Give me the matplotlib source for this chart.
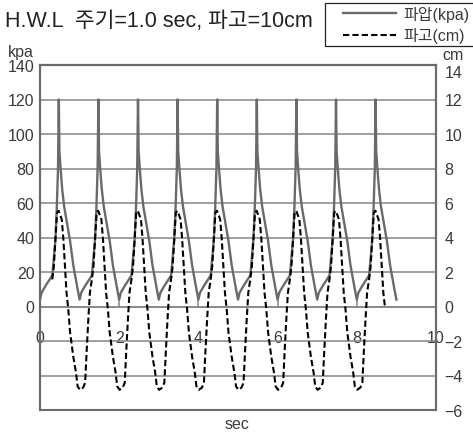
import matplotlib
matplotlib.use("Agg")
import matplotlib.pyplot as plt
from matplotlib.patches import Rectangle

plt.rcParams['font.family'] = ['Liberation Sans', 'Noto Sans CJK KR', 'DejaVu Sans']

# one wave cycle (phase within a 1.0 sec period)
press_phase = [0.00, 0.04, 0.14, 0.245, 0.31, 0.33, 0.39, 0.425, 0.455, 0.475,
               0.49, 0.52, 0.56, 0.61, 0.67, 0.76, 0.84, 0.91, 0.95]
press_kpa = [4, 8, 12, 15.7, 18, 23, 39, 58, 80, 120,
             90, 80, 68, 58, 50, 38, 24, 15, 10]

wave_phase = [0.01, 0.09, 0.14, 0.18, 0.22, 0.26, 0.31, 0.35, 0.39, 0.43,
              0.47, 0.55, 0.59, 0.63, 0.67, 0.715, 0.76, 0.84, 0.91, 0.95]
wave_cm = [-4.83, -4.7, -4.42, -2.5, -0.76, 0.8, 1.57, 2.35, 3.9, 5.45,
           5.55, 5.05, 3.9, 2.35, 0.8, -0.17, -1.5, -2.9, -3.85, -4.63]

cycle_start = [0, 1, 2, 3, 4, 5, 6, 7, 8]
press_end = (9.0, 4)        # last point of the pressure record
wave_first = 0.31           # dashed record begins on the first rise
wave_last = 8.71            # dashed record ends on the last fall

left_ticks = [-40, -20, 0, 20, 40, 60, 80, 100, 120, 140]
right_ticks = [-6, -4, -2, 0, 2, 4, 6, 8, 10, 12, 14]
x_ticks = [0, 2, 4, 6, 8, 10]

t_p, v_p = [], []
for c in cycle_start:
    for ph, v in zip(press_phase, press_kpa):
        t_p.append(c + ph)
        v_p.append(v)
t_p.append(press_end[0])
v_p.append(press_end[1])

t_w, v_w = [], []
for c in cycle_start:
    for ph, v in zip(wave_phase, wave_cm):
        t = c + ph
        if wave_first <= t <= wave_last:
            t_w.append(t)
            v_w.append(v)
t_w.append(wave_last)
v_w.append(0.0)

frame = '#6b6b6b'
gridc = '#858585'
txt = '#3a3a3a'

fig = plt.figure(figsize=(4.73, 4.39), dpi=100)
ax = fig.add_axes([40 / 473, 1 - 411 / 439, 396 / 473, 345 / 439])
ax2 = ax.twinx()

ax.set_xlim(0, 10)
ax.set_ylim(-60, 140)
ax2.set_ylim(-6, 14)

ax.set_yticks(left_ticks)
ax.set_yticklabels([str(t) if t >= 0 else '' for t in left_ticks])
ax.grid(axis='y', color=gridc, lw=1.1)
ax.tick_params(axis='y', length=0, pad=4, labelsize=11.5, labelcolor=txt)

ax2.set_yticks(right_ticks)
ax2.tick_params(axis='y', length=0, pad=6, labelsize=11.5, labelcolor=txt)
# the top right label sits just under the frame, clear of the "cm" unit
ax2.get_yticklabels()[-1].set_va('top')

ax.spines['bottom'].set_position(('data', 0))
ax.spines['bottom'].set_color(gridc)
ax.spines['bottom'].set_linewidth(1.1)
ax.set_xticks(x_ticks)
ax.tick_params(axis='x', direction='in', length=6, width=1.1, color=gridc,
               pad=17, labelsize=11.5, labelcolor=txt)

for s in ['left', 'right', 'top']:
    ax.spines[s].set_color(frame)
    ax.spines[s].set_linewidth(1.5)
for s in ax2.spines.values():
    s.set_color(frame)
    s.set_linewidth(1.5)

l1, = ax.plot(t_p, v_p, color='#6a6a6a', lw=1.7)
l2, = ax2.plot(t_w, v_w, color='black', lw=1.5, linestyle=(0, (3, 1.5)))

fig.text(5 / 473, 1 - 22 / 439, 'H.W.L  주기=1.0 sec, 파고=10cm',
         fontsize=15.5, va='center', ha='left', color='#222222')
fig.text(8 / 473, 1 - 52 / 439, 'kpa', fontsize=11.5, va='center', color=txt)
fig.text(453 / 473, 1 - 55 / 439, 'cm', fontsize=11.5, va='center', ha='center', color=txt)
fig.text(237 / 473, 1 - 425 / 439, 'sec', fontsize=11.5, va='center', ha='center', color=txt)

fig.patches.append(Rectangle((325 / 473, 1 - 47 / 439), 150 / 473, 43 / 439,
                             transform=fig.transFigure, fill=False,
                             edgecolor='#222222', lw=0.9))
leg = fig.legend([l1, l2], ['파압(kpa)', '파고(cm)'], loc='upper left',
                 bbox_to_anchor=(338 / 473, 1 - 2 / 439), fontsize=11.5,
                 frameon=False, handlelength=3.3, handletextpad=0.5,
                 borderpad=0.3, labelspacing=0.35, borderaxespad=0)
for t in leg.get_texts():
    t.set_color(txt)

fig.savefig('out.png', dpi=100)
